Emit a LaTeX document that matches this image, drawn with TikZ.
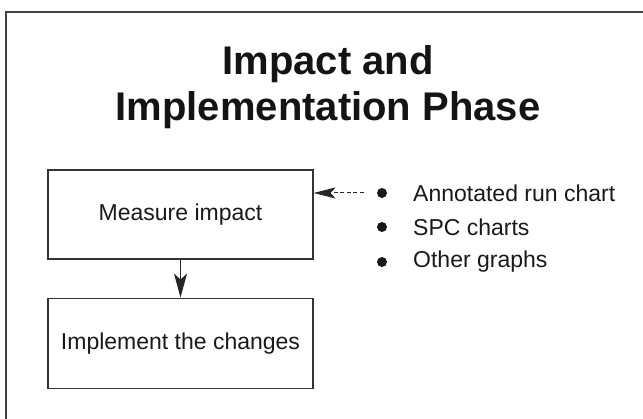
\documentclass[tikz,border=0pt]{standalone}
\usepackage{fontspec}
\setmainfont{Liberation Sans}
\usepackage{tikz}
\usetikzlibrary{positioning,arrows.meta}

\begin{document}
\begin{tikzpicture}[x=1pt,y=-1pt,
			stepbox/.style={rectangle, draw=black!80, line width=1.1pt, minimum width=265pt, minimum height=89pt, font=\fontsize{23}{27}\selectfont, text=black!90, inner sep=0pt},
			item/.style={anchor=west, font=\fontsize{23}{27}\selectfont, text=black!90, inner sep=0pt},
			dot/.style={circle, fill=black!90, minimum size=10pt, inner sep=0pt},
		]
		\useasboundingbox (0,0) rectangle (643,419);
		\draw[black!75, line width=1.6pt] (6,460) -- (6,12) -- (700,12);

		\node[align=center, font=\fontsize{40}{46}\selectfont\bfseries, text=black!92] (title) at (328,87) {Impact and\\Implementation Phase};

		\node[stepbox] (q1) at (180.5,214.5) {Measure impact};
		\node[stepbox, below=38pt of q1, minimum height=90pt] (q2) {Implement the changes};

		\node[dot] (b1) at (382,193) {};
		\node[dot] (b2) at (382,227) {};
		\node[dot] (b3) at (382,262) {};
		\node[item] (i1) at (413,193) {Annotated run chart};
		\node[item] (i2) at (413,227) {SPC charts};
		\node[item] (i3) at (413,262) {Other graphs};

		\draw[black!85, line width=1pt, -{Stealth[length=24pt, width=13pt, inset=6pt]}] (q1) -- (q2);
		\draw[black!85, line width=1pt, dash pattern=on 4pt off 2.5pt, shorten <=13pt, -{Stealth[length=22pt, width=11pt, inset=5pt]}] (b1) -- (b1 -| q1.east);

		\end{tikzpicture}
\end{document}
